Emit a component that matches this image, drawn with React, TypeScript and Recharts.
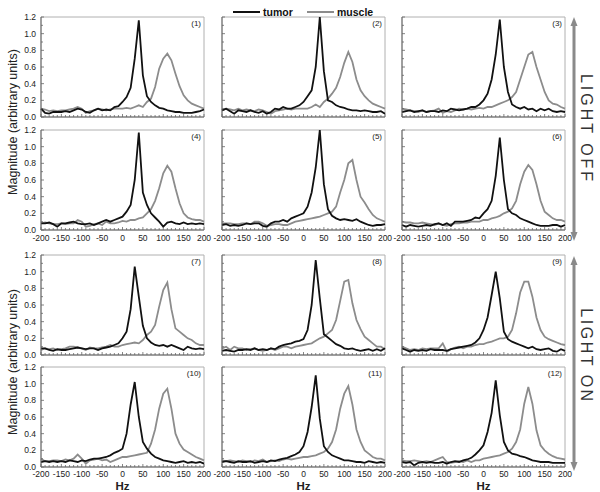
import React from 'react';
import { LineChart, Line, XAxis, YAxis, ReferenceArea } from 'recharts';

const HZ = [
  -200, -190, -180, -170, -160, -150, -140, -130, -120, -110,
  -100, -90, -80, -70, -60, -50, -40, -30, -20, -10,
  0, 10, 20, 30, 40, 50, 60, 70, 80, 90,
  100, 110, 120, 130, 140, 150, 160, 170, 180, 190,
  200,
];
const Y_TICKS = [0, 0.1, 0.2, 0.3, 0.4, 0.5, 0.6, 0.7, 0.8, 0.9, 1.0, 1.1, 1.2];
const PANEL_LABELS = ['(1)', '(2)', '(3)', '(4)', '(5)', '(6)', '(7)', '(8)', '(9)', '(10)', '(11)', '(12)'];
const SERIES_NAMES = ['tumor', 'muscle'];
const GROUP_LABELS = ['LIGHT OFF', 'LIGHT ON'];
const Y_TITLE = 'Magnitude (arbitrary units)';
const X_TITLE = 'Hz';

const TUMOR_1 = [0.10,0.05,0.04,0.06,0.06,0.06,0.07,0.06,0.08,0.10, 0.09,0.06,0.05,0.08,0.10,0.08,0.09,0.08,0.12,0.13, 0.18,0.24,0.35,0.70,1.16,0.50,0.25,0.18,0.14,0.11, 0.10,0.08,0.07,0.06,0.06,0.05,0.05,0.05,0.06,0.07, 0.09];
const MUSCLE_1 = [0.10,0.09,0.07,0.08,0.07,0.08,0.08,0.09,0.10,0.12, 0.10,0.05,0.07,0.08,0.10,0.09,0.08,0.09,0.10,0.10, 0.10,0.11,0.10,0.12,0.14,0.12,0.18,0.22,0.36,0.58, 0.70,0.76,0.68,0.52,0.37,0.26,0.20,0.16,0.14,0.12, 0.10];
const TUMOR_2 = [0.08,0.10,0.07,0.04,0.08,0.07,0.06,0.08,0.06,0.05, 0.07,0.04,0.06,0.10,0.09,0.12,0.10,0.10,0.12,0.14, 0.18,0.25,0.32,0.60,1.20,0.55,0.20,0.18,0.14,0.12, 0.11,0.09,0.08,0.08,0.07,0.08,0.07,0.06,0.06,0.07, 0.04];
const MUSCLE_2 = [0.08,0.10,0.09,0.08,0.10,0.08,0.09,0.08,0.07,0.09, 0.08,0.06,0.04,0.07,0.08,0.09,0.10,0.09,0.10,0.10, 0.10,0.10,0.12,0.15,0.12,0.18,0.22,0.28,0.35,0.48, 0.65,0.78,0.66,0.45,0.32,0.25,0.20,0.16,0.14,0.12, 0.10];
const TUMOR_3 = [0.06,0.07,0.08,0.06,0.07,0.08,0.06,0.07,0.07,0.06, 0.08,0.07,0.10,0.09,0.08,0.09,0.10,0.12,0.12,0.15, 0.20,0.28,0.45,0.75,1.17,0.60,0.30,0.15,0.12,0.10, 0.12,0.09,0.10,0.07,0.10,0.08,0.10,0.07,0.06,0.07, 0.06];
const MUSCLE_3 = [0.10,0.09,0.08,0.07,0.06,0.08,0.06,0.07,0.08,0.10, 0.05,0.07,0.06,0.08,0.10,0.09,0.10,0.09,0.10,0.11, 0.10,0.12,0.12,0.14,0.16,0.18,0.20,0.24,0.30,0.45, 0.60,0.75,0.78,0.60,0.45,0.30,0.20,0.16,0.15,0.12, 0.10];
const TUMOR_4 = [0.08,0.08,0.09,0.07,0.04,0.08,0.08,0.09,0.10,0.08, 0.07,0.07,0.08,0.06,0.08,0.10,0.12,0.10,0.12,0.14, 0.16,0.22,0.30,0.60,1.17,0.45,0.30,0.20,0.15,0.10, 0.04,0.09,0.10,0.08,0.07,0.09,0.07,0.08,0.07,0.08, 0.07];
const MUSCLE_4 = [0.08,0.09,0.08,0.07,0.07,0.08,0.07,0.08,0.08,0.12, 0.10,0.04,0.05,0.07,0.08,0.06,0.10,0.08,0.08,0.09, 0.11,0.10,0.12,0.12,0.14,0.15,0.20,0.25,0.35,0.50, 0.68,0.77,0.70,0.50,0.32,0.20,0.15,0.13,0.12,0.12, 0.10];
const TUMOR_5 = [0.06,0.07,0.05,0.06,0.05,0.06,0.08,0.07,0.08,0.08, 0.05,0.04,0.08,0.10,0.10,0.12,0.10,0.14,0.16,0.18, 0.20,0.28,0.45,0.75,1.20,0.55,0.25,0.17,0.14,0.12, 0.13,0.12,0.11,0.13,0.10,0.08,0.06,0.05,0.06,0.06, 0.07];
const MUSCLE_5 = [0.08,0.08,0.08,0.07,0.07,0.08,0.08,0.07,0.10,0.10, 0.08,0.05,0.06,0.07,0.07,0.06,0.06,0.08,0.10,0.11, 0.12,0.13,0.14,0.15,0.16,0.18,0.20,0.22,0.28,0.45, 0.60,0.80,0.84,0.60,0.40,0.33,0.25,0.18,0.14,0.12, 0.10];
const TUMOR_6 = [0.06,0.04,0.06,0.05,0.04,0.05,0.06,0.05,0.07,0.08, 0.06,0.08,0.05,0.10,0.10,0.10,0.11,0.12,0.15,0.14, 0.20,0.25,0.35,0.65,1.11,0.60,0.25,0.20,0.18,0.14, 0.12,0.10,0.08,0.06,0.05,0.05,0.05,0.06,0.06,0.04, 0.06];
const MUSCLE_6 = [0.10,0.09,0.09,0.08,0.08,0.09,0.08,0.07,0.06,0.08, 0.06,0.05,0.07,0.08,0.08,0.09,0.09,0.10,0.10,0.10, 0.12,0.12,0.14,0.15,0.17,0.20,0.22,0.26,0.35,0.55, 0.70,0.78,0.72,0.55,0.35,0.22,0.18,0.14,0.12,0.12, 0.10];
const TUMOR_7 = [0.08,0.08,0.06,0.05,0.07,0.06,0.06,0.07,0.08,0.09, 0.08,0.07,0.08,0.08,0.06,0.08,0.09,0.10,0.12,0.14, 0.20,0.28,0.55,1.06,0.70,0.35,0.20,0.15,0.12,0.11, 0.12,0.10,0.12,0.10,0.08,0.06,0.10,0.08,0.07,0.08, 0.07];
const MUSCLE_7 = [0.06,0.08,0.07,0.08,0.06,0.07,0.08,0.10,0.10,0.09, 0.08,0.06,0.09,0.08,0.08,0.09,0.10,0.12,0.10,0.10, 0.12,0.13,0.14,0.15,0.14,0.18,0.24,0.28,0.36,0.58, 0.78,0.87,0.55,0.32,0.28,0.24,0.20,0.18,0.14,0.12, 0.12];
const TUMOR_8 = [0.05,0.06,0.05,0.04,0.06,0.06,0.07,0.06,0.08,0.06, 0.07,0.06,0.08,0.07,0.10,0.12,0.13,0.14,0.16,0.17, 0.19,0.30,0.60,1.14,0.68,0.25,0.21,0.17,0.13,0.11, 0.08,0.07,0.08,0.06,0.05,0.06,0.07,0.05,0.07,0.05, 0.08];
const MUSCLE_8 = [0.08,0.10,0.06,0.10,0.08,0.08,0.06,0.07,0.08,0.06, 0.05,0.06,0.08,0.06,0.08,0.10,0.10,0.08,0.10,0.11, 0.12,0.13,0.14,0.17,0.20,0.22,0.26,0.30,0.42,0.65, 0.88,0.90,0.62,0.42,0.31,0.22,0.18,0.14,0.10,0.10, 0.07];
const TUMOR_9 = [0.08,0.06,0.04,0.06,0.05,0.06,0.05,0.07,0.06,0.06, 0.06,0.05,0.07,0.08,0.09,0.10,0.11,0.12,0.15,0.20, 0.30,0.45,0.72,1.00,0.68,0.28,0.19,0.16,0.14,0.12, 0.10,0.08,0.10,0.07,0.06,0.07,0.08,0.05,0.04,0.07, 0.05];
const MUSCLE_9 = [0.10,0.08,0.06,0.07,0.06,0.08,0.07,0.08,0.08,0.08, 0.14,0.04,0.07,0.09,0.10,0.08,0.10,0.10,0.12,0.13, 0.13,0.15,0.16,0.18,0.20,0.20,0.22,0.30,0.50,0.75, 0.88,0.88,0.70,0.45,0.30,0.22,0.19,0.17,0.15,0.13, 0.12];
const TUMOR_10 = [0.06,0.07,0.06,0.07,0.06,0.07,0.06,0.08,0.07,0.06, 0.08,0.07,0.09,0.10,0.10,0.11,0.12,0.14,0.17,0.19, 0.22,0.40,0.75,1.02,0.60,0.30,0.22,0.16,0.12,0.10, 0.08,0.07,0.06,0.05,0.06,0.07,0.05,0.06,0.05,0.06, 0.04];
const MUSCLE_10 = [0.10,0.07,0.07,0.08,0.08,0.07,0.09,0.08,0.10,0.15, 0.10,0.04,0.08,0.09,0.10,0.08,0.09,0.06,0.08,0.10, 0.12,0.12,0.13,0.14,0.15,0.16,0.17,0.28,0.45,0.70, 0.88,0.94,0.70,0.40,0.28,0.21,0.18,0.15,0.12,0.10, 0.08];
const TUMOR_11 = [0.06,0.07,0.06,0.05,0.07,0.06,0.06,0.07,0.05,0.06, 0.07,0.06,0.08,0.07,0.09,0.10,0.11,0.13,0.15,0.18, 0.25,0.42,0.72,1.10,0.58,0.25,0.18,0.14,0.12,0.10, 0.08,0.08,0.07,0.06,0.06,0.05,0.07,0.06,0.05,0.06, 0.05];
const MUSCLE_11 = [0.08,0.07,0.08,0.07,0.06,0.08,0.07,0.06,0.08,0.07, 0.09,0.06,0.07,0.08,0.07,0.09,0.10,0.09,0.10,0.11, 0.12,0.12,0.13,0.14,0.16,0.18,0.22,0.30,0.45,0.70, 0.88,0.97,0.75,0.45,0.30,0.20,0.16,0.12,0.10,0.10, 0.08];
const TUMOR_12 = [0.06,0.05,0.06,0.02,0.05,0.06,0.05,0.06,0.05,0.05, 0.06,0.04,0.06,0.07,0.06,0.08,0.09,0.11,0.15,0.20, 0.26,0.42,0.65,1.04,0.62,0.30,0.20,0.16,0.15,0.13, 0.12,0.10,0.08,0.07,0.06,0.06,0.06,0.05,0.05,0.05, 0.05];
const MUSCLE_12 = [0.08,0.07,0.07,0.08,0.07,0.06,0.07,0.06,0.08,0.10, 0.12,0.06,0.05,0.06,0.07,0.06,0.08,0.06,0.08,0.08, 0.10,0.11,0.12,0.13,0.14,0.16,0.18,0.22,0.30,0.45, 0.76,0.96,0.76,0.44,0.26,0.20,0.16,0.13,0.11,0.10, 0.09];

const TUMOR = [TUMOR_1, TUMOR_2, TUMOR_3, TUMOR_4, TUMOR_5, TUMOR_6, TUMOR_7, TUMOR_8, TUMOR_9, TUMOR_10, TUMOR_11, TUMOR_12];
const MUSCLE = [MUSCLE_1, MUSCLE_2, MUSCLE_3, MUSCLE_4, MUSCLE_5, MUSCLE_6, MUSCLE_7, MUSCLE_8, MUSCLE_9, MUSCLE_10, MUSCLE_11, MUSCLE_12];

// layout
const FONT = '"Liberation Sans", Arial, sans-serif';
const COL_LEFT = [41, 222, 402];
const ROW_TOP = [17, 130, 255, 367];
const PLOT_W = 163;
const PLOT_H = 100;
const Y_AXIS_W = 30;
const X_AXIS_H = 16;
const M_TOP = 4;
const M_RIGHT = 14;
const TUMOR_COLOR = '#111111';
const MUSCLE_COLOR = '#8c8c8c';
const AXIS_COLOR = '#666666';
const FRAME_COLOR = '#b0b0b0';

function XTick(props: any) {
  const { x, y, payload, showLabel, labelDy } = props;
  const v = payload.value as number;
  const major = v % 50 === 0;
  return (
    <g>
      <line x1={x} x2={x} y1={y} y2={y - (major ? 3 : 2)} stroke={AXIS_COLOR} strokeWidth={0.8} />
      {showLabel && major ? (
        <text x={x} y={y + labelDy} textAnchor="middle" fontSize={8.5} fill="#222" fontFamily={FONT}>
          {v}
        </text>
      ) : null}
    </g>
  );
}

function YTick(props: any) {
  const { x, y, payload, showLabel } = props;
  const v = payload.value as number;
  const major = Math.round(v * 10) % 2 === 0;
  return (
    <g>
      <line x1={x} x2={x + (major ? 3 : 2)} y1={y} y2={y} stroke={AXIS_COLOR} strokeWidth={0.8} />
      {showLabel && major ? (
        <text x={x - 5} y={y + 3} textAnchor="end" fontSize={8.5} fill="#222" fontFamily={FONT}>
          {v.toFixed(1)}
        </text>
      ) : null}
    </g>
  );
}

function Panel({ idx }: { idx: number }) {
  const row = Math.floor(idx / 3);
  const col = idx % 3;
  const data = HZ.map((hz, i) => ({ hz, tumor: TUMOR[idx][i], muscle: MUSCLE[idx][i] }));
  const w = Y_AXIS_W + PLOT_W + M_RIGHT;
  const h = M_TOP + PLOT_H + X_AXIS_H;
  const showX = row % 2 === 1;
  const showY = col === 0;
  const labelDy = row === 3 ? 9.8 : 11;
  return (
    <div style={{ position: 'absolute', left: COL_LEFT[col] - Y_AXIS_W, top: ROW_TOP[row] - M_TOP, width: w, height: h }}>
      <LineChart width={w} height={h} data={data} margin={{ top: M_TOP, right: M_RIGHT, bottom: 0, left: 0 }}>
        <ReferenceArea
          x1={-200}
          x2={200}
          y1={0}
          y2={1.2}
          fill="none"
          stroke={FRAME_COLOR}
          strokeWidth={1}
          label={{ value: PANEL_LABELS[idx], position: 'insideTopRight', fontSize: 8, fill: '#222', offset: 3, fontFamily: FONT }}
        />
        <XAxis
          dataKey="hz"
          type="number"
          domain={[-200, 200]}
          ticks={HZ}
          interval={0}
          height={X_AXIS_H}
          tickSize={0}
          tickMargin={0}
          tickLine={false}
          axisLine={{ stroke: AXIS_COLOR, strokeWidth: 1 }}
          tick={(tp: any) => <XTick {...tp} showLabel={showX} labelDy={labelDy} />}
        />
        <YAxis
          type="number"
          domain={[0, 1.2]}
          ticks={Y_TICKS}
          interval={0}
          width={Y_AXIS_W}
          tickSize={0}
          tickMargin={0}
          tickLine={false}
          axisLine={{ stroke: AXIS_COLOR, strokeWidth: 1 }}
          tick={(tp: any) => <YTick {...tp} showLabel={showY} />}
        />
        <Line type="linear" dataKey="muscle" stroke={MUSCLE_COLOR} strokeWidth={1.8} dot={false} isAnimationActive={false} />
        <Line type="linear" dataKey="tumor" stroke={TUMOR_COLOR} strokeWidth={1.8} dot={false} isAnimationActive={false} />
      </LineChart>
    </div>
  );
}

function Arrow({ x, y1, y2 }: { x: number; y1: number; y2: number }) {
  const hw = 3.5;
  const hl = 9;
  return (
    <g fill="#8a8a8a" stroke="none">
      <rect x={x - 1.5} y={y1 + hl - 1} width={3} height={y2 - y1 - 2 * hl + 2} />
      <polygon points={`${x},${y1} ${x - hw},${y1 + hl} ${x + hw},${y1 + hl}`} />
      <polygon points={`${x},${y2} ${x - hw},${y2 - hl} ${x + hw},${y2 - hl}`} />
    </g>
  );
}

export default function App() {
  const idxs = Array.from({ length: 12 }, (_, i) => i);
  return (
    <div style={{ position: 'absolute', left: 0, top: 0, width: 600, height: 492, background: '#fff', fontFamily: FONT, overflow: 'hidden' }}>
      {idxs.map((i) => (
        <Panel key={i} idx={i} />
      ))}
      <svg width={600} height={492} style={{ position: 'absolute', left: 0, top: 0, pointerEvents: 'none' }} fontFamily={FONT}>
        <line x1={233} x2={260} y1={12} y2={12} stroke={TUMOR_COLOR} strokeWidth={2} />
        <text x={263} y={15.5} fontSize={10.5} fontWeight="bold" fill="#111">{SERIES_NAMES[0]}</text>
        <line x1={307} x2={334} y1={12} y2={12} stroke={MUSCLE_COLOR} strokeWidth={2} />
        <text x={337} y={15.5} fontSize={10.5} fontWeight="bold" fill="#111">{SERIES_NAMES[1]}</text>
        <text transform="translate(17,122) rotate(-90)" textAnchor="middle" fontSize={12.5} fill="#222">{Y_TITLE}</text>
        <text transform="translate(17,362) rotate(-90)" textAnchor="middle" fontSize={12.5} fill="#222">{Y_TITLE}</text>
        {COL_LEFT.map((l, i) => (
          <text key={i} x={l + PLOT_W / 2} y={489.5} textAnchor="middle" fontSize={11.5} fontWeight="bold" fill="#222">{X_TITLE}</text>
        ))}
        <Arrow x={574} y1={17} y2={241} />
        <Arrow x={574} y1={256} y2={471} />
        <text transform="translate(581,129) rotate(90)" textAnchor="middle" fontSize={16} letterSpacing={3} fill="#333">{GROUP_LABELS[0]}</text>
        <text transform="translate(581,356) rotate(90)" textAnchor="middle" fontSize={16} letterSpacing={2.5} fill="#333">{GROUP_LABELS[1]}</text>
      </svg>
    </div>
  );
}
